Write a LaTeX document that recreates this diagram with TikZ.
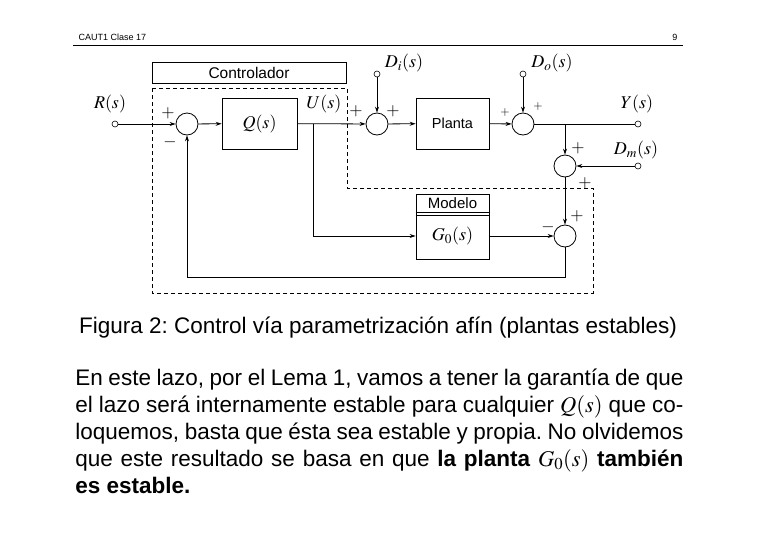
\documentclass[tikz,border=0pt]{standalone}
\usepackage{mathptmx}
\usepackage[no-math]{fontspec}
\setmainfont{Liberation Sans}
\usetikzlibrary{arrows.meta}

\tikzset{
  sumcirc/.style={draw, circle, minimum size=22pt, inner sep=0pt},
  blk/.style={draw, rectangle, minimum width=75pt, minimum height=51pt, inner sep=0pt},
  term/.style={draw, circle, fill=white, minimum size=6pt, inner sep=0pt, line width=0.6pt},
  mlbl/.style={font=\fontsize{18}{20}\selectfont},
  sgn/.style={font=\fontsize{17}{18}\selectfont},
  sgnsmall/.style={font=\fontsize{12}{13}\selectfont},
  sig/.style={-{Stealth[length=6pt,width=4pt]}},
}

\begin{document}
\frenchspacing
\begin{tikzpicture}[x=1pt, y=-1pt, line width=0.8pt, every node/.style={font=\fontsize{15}{17}\selectfont}]
        \useasboundingbox (0,0) rectangle (758,536);

        % Header
        \node[anchor=base west, font=\fontsize{9}{10}\selectfont] (hdr) at (75,40) {CAUT1 Clase 17};
        \node[anchor=base east, font=\fontsize{9}{10}\selectfont] (pg) at (681,40) {9};
        \draw (73,45) -- (683,45);

        % Controller title and boundary
        \node[draw, minimum width=194pt, minimum height=21pt, inner sep=0pt, font=\fontsize{15.5}{17}\selectfont] (ctl) at (249,72.5) {Controlador};
        \draw[dash pattern=on 4pt off 3pt] (152,88) -- (347,88) -- (347,188) -- (593,188) -- (593,293) -- (152,293) -- cycle;

        % Summing junctions
        \node[sumcirc] (s1) at (187,124) {};
        \node[sumcirc] (s2) at (377,124) {};
        \node[sumcirc] (s3) at (523,124) {};
        \node[sumcirc] (s4) at (565,166) {};
        \node[sumcirc] (s5) at (565,236) {};

        % Blocks
        \node[blk, mlbl] (Q) at (259.5,123.5) {$Q(s)$};
        \node[blk, minimum width=73pt, font=\fontsize{14.5}{16}\selectfont] (P) at (452.5,123.5) {Planta};
        \node[draw, minimum width=73pt, minimum height=65pt, inner sep=0pt] (M) at (452.5,226.5) {};
        \node (Mt) at (452.5,203.5) {Modelo};
        \node[mlbl] (Mg) at (452.5,236) {$G_0(s)$};
        \draw ([yshift=-19pt]M.north west) -- ([yshift=-19pt]M.north east);
        \draw ([yshift=-22pt]M.north west) -- ([yshift=-22pt]M.north east);

        % Terminals
        \node[term] (rin) at (115,124) {};
        \node[term] (di) at (377,74) {};
        \node[term] (do) at (523,74) {};
        \node[term] (yout) at (638,124) {};
        \node[term] (dm) at (638,166) {};
        \coordinate (bu) at (313,124);
        \coordinate (by) at (565,124);
        \coordinate (fb) at (565,277);

        % Signal labels
        \node[mlbl] (lr) at (110,104) {$R(s)$};
        \node[mlbl] (lu) at (324,104) {$U(s)$};
        \node[mlbl] (ldi) at (404,63) {$D_i(s)$};
        \node[mlbl] (ldo) at (552,63) {$D_o(s)$};
        \node[mlbl] (ly) at (637,104) {$Y(s)$};
        \node[mlbl] (ldm) at (636,150) {$D_m(s)$};

        % Connectors
        \draw[sig] (rin) -- (s1);
        \draw[sig] (s1) -- (Q);
        \draw[sig] (Q) -- (s2);
        \draw[sig] (di) -- (s2);
        \draw[sig] (s2) -- (P);
        \draw[sig] (P) -- (s3);
        \draw[sig] (do) -- (s3);
        \draw (s3) -- (yout);
        \draw[sig] (by) -- (s4);
        \draw[sig] (dm) -- (s4);
        \draw[sig] (s4) -- (s5);
        \draw[sig] (bu) |- (s5 -| M.west);
        \draw[sig] (s5 -| M.east) -- (s5);
        \draw[sig] (s5) -- (fb) -| (s1);

        % Signs
        \node[sgn] (p1) at (168,113) {$+$};
        \node[sgn] (m1) at (170,142) {$-$};
        \node[sgn] (p2a) at (356,111) {$+$};
        \node[sgn] (p2b) at (393,111) {$+$};
        \node[sgnsmall] (p3a) at (505,112) {$+$};
        \node[sgnsmall] (p3b) at (538,107) {$+$};
        \node[sgn] (p4a) at (578,148) {$+$};
        \node[sgn] (p4b) at (585,183) {$+$};
        \node[sgn] (p5a) at (577,216) {$+$};
        \node[sgn] (m5) at (548,227) {$-$};

        % Caption and text
        \node[font=\fontsize{22.5}{25}\selectfont] (cap) at (378,328) {Figura 2: Control vía parametrización afín (plantas estables)};
        \node[anchor=north west, inner sep=0pt, text width=608pt, align=justify, font=\fontsize{22.5}{26.8}\selectfont] (body) at (75,369)
          {En este lazo, por el Lema 1, vamos a tener la garantía de que\linebreak
           el lazo será internamente estable para cualquier $Q(s)$ que co-\linebreak
           loquemos, basta que ésta sea estable y propia. No olvidemos\linebreak
           que este resultado se basa en que \textbf{la planta} $G_0(s)$ \textbf{también}\linebreak
           \textbf{es estable.}};
\end{tikzpicture}
\end{document}
